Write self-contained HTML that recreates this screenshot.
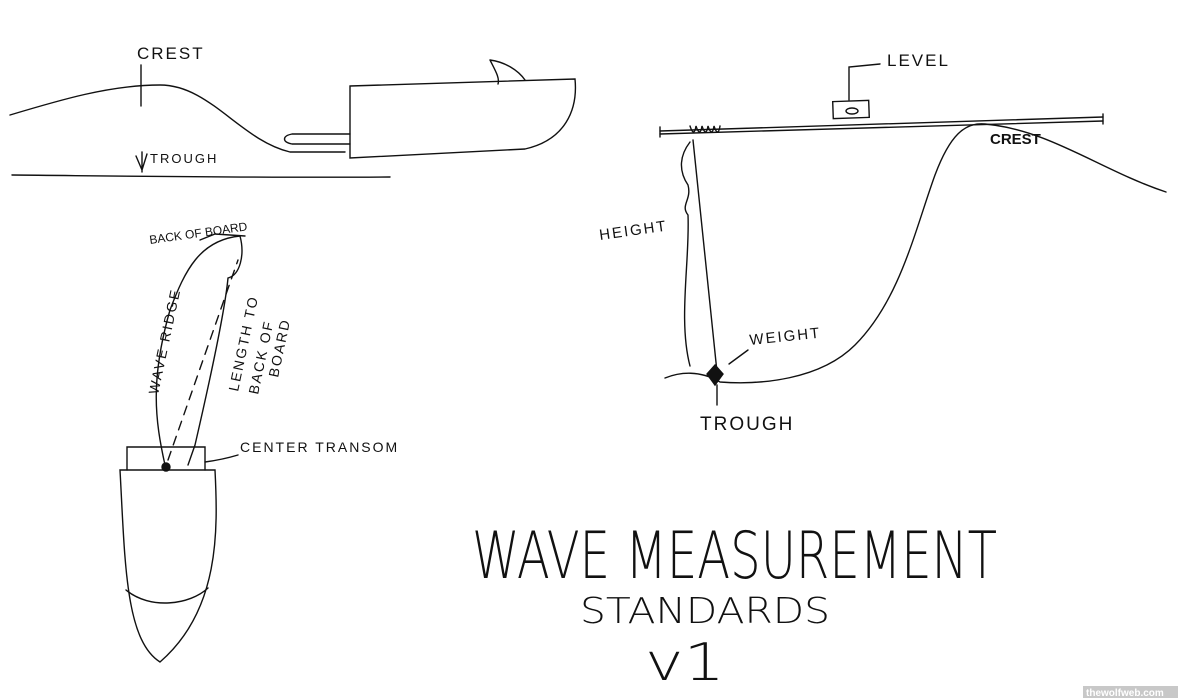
<!DOCTYPE html>
<html><head><meta charset="utf-8"><style>
html,body{margin:0;padding:0;background:#fff;width:1180px;height:699px;overflow:hidden}
svg{display:block}
text{font-family:"Liberation Sans",sans-serif;fill:#111}
.h{font-family:"Liberation Sans",sans-serif;font-weight:normal;letter-spacing:2px}
</style></head><body>
<svg width="1180" height="699" viewBox="0 0 1180 699" fill="none" stroke="#111" stroke-width="1.4" stroke-linecap="round">
<!-- top-left wave -->
<path d="M10 115 C60 100,110 85,160 85 C210 85,240 140,290 152 L345 152"/>
<path d="M141 65 L141 106"/>
<text x="137" y="59" font-size="17" stroke="none" class="h">CREST</text>
<path d="M12 175 C120 176,260 178,390 177"/>
<path d="M142 152 L142 172 M136 156 L142 170 L147 154"/>
<text x="150" y="163" font-size="13" stroke="none" class="h">TROUGH</text>
<!-- boat -->
<path d="M350 86 L575 79 C578 110,565 140,525 149 L350 158 Z"/>
<path d="M490 60 C495 70,500 78,498 84 M490 60 C505 62,518 70,525 80"/>
<path d="M350 134 L292 134 C282 136,282 142,292 144 L350 144"/>
<!-- top-right -->
<path d="M660 131 L1103 117 M660 134 L1103 121"/>
<path d="M660 127 L660 137 M1103 114 L1103 124"/>
<rect x="833" y="101" width="36" height="17" transform="rotate(-2 851 110)"/>
<ellipse cx="852" cy="111" rx="6" ry="3"/>
<path d="M849 100 L849 67 L880 64"/>
<text x="887" y="66" font-size="17" stroke="none" class="h">LEVEL</text>
<path d="M690 126 q4 12,6 0 q4 12,6 0 q4 12,6 0 q4 12,6 0 q4 12,6 0"/>
<path d="M693 140 L717 372"/>
<path d="M665 378 C680 372,700 370,720 382 C760 385,820 380,855 345 C900 300,915 230,935 175 C950 135,965 122,985 124 C1050 130,1100 170,1166 192"/>
<text x="990" y="144" font-size="15" font-weight="bold" stroke="none">CREST</text>
<path d="M690 142 C680 155,678 170,688 185 C692 200,680 205,688 215 C690 260,678 320,690 366"/>
<text x="600" y="240" font-size="15" stroke="none" class="h" transform="rotate(-8 600 240)">HEIGHT</text>
<path d="M715 365 L723 374 L715 385 L707 374 Z" fill="#111"/>
<path d="M729 364 L748 350"/>
<text x="750" y="345" font-size="15" stroke="none" class="h" transform="rotate(-6 750 345)">WEIGHT</text>
<path d="M717 385 L717 405"/>
<text x="700" y="430" font-size="19" stroke="none" class="h">TROUGH</text>
<!-- bottom-left boat -->
<path d="M127 470 L127 447 L205 447 L205 470"/>
<path d="M120 470 L215 470 C218 530,220 610,160 662 C125 640,125 560,120 470 Z"/>
<path d="M126 590 C150 610,190 605,208 588"/>
<path d="M165 465 C155 420,150 380,170 310 C185 270,200 240,240 236 C245 255,240 275,228 278 C225 310,210 380,195 445 L188 465"/>
<path d="M200 240 L215 234 L245 236"/>
<path d="M168 460 L238 260" stroke-dasharray="9 7"/>
<circle cx="166" cy="467" r="4" fill="#111"/>
<path d="M205 462 C220 460,228 458,238 455"/>
<text x="150" y="244" font-size="12" stroke="none" transform="rotate(-8 150 244)">BACK OF BOARD</text>
<text x="158" y="395" font-size="14" stroke="none" class="h" transform="rotate(-78 158 395)">WAVE RIDGE</text>
<text x="238" y="392" font-size="14" stroke="none" class="h" transform="rotate(-78 238 392)">LENGTH TO</text>
<text x="258" y="395" font-size="14" stroke="none" class="h" transform="rotate(-78 258 395)">BACK OF</text>
<text x="278" y="378" font-size="14" stroke="none" class="h" transform="rotate(-78 278 378)">BOARD</text>
<text x="240" y="452" font-size="14" stroke="none" class="h">CENTER TRANSOM</text>
<!-- title -->
<g transform="translate(472 578) scale(1 1.35)">
<text x="0" y="0" font-size="48" stroke="none" textLength="525" lengthAdjust="spacingAndGlyphs" style="font-family:'DejaVu Sans',sans-serif;font-weight:200">WAVE MEASUREMENT</text>
</g>
<g transform="translate(580 623) scale(1 1.2)">
<text x="0" y="0" font-size="30" stroke="none" textLength="250" lengthAdjust="spacingAndGlyphs" style="font-family:'DejaVu Sans',sans-serif;font-weight:200">STANDARDS</text>
</g>
<text x="645" y="680" font-size="52" stroke="none" textLength="80" lengthAdjust="spacingAndGlyphs" style="font-family:'DejaVu Sans',sans-serif;font-weight:200">v1</text>
<rect x="1083" y="686" width="95" height="12" fill="#c8c8c8" stroke="none"/>
<text x="1086" y="696" font-size="10" font-weight="bold" stroke="none" style="fill:#fff">thewolfweb.com</text>
</svg>
</body></html>
